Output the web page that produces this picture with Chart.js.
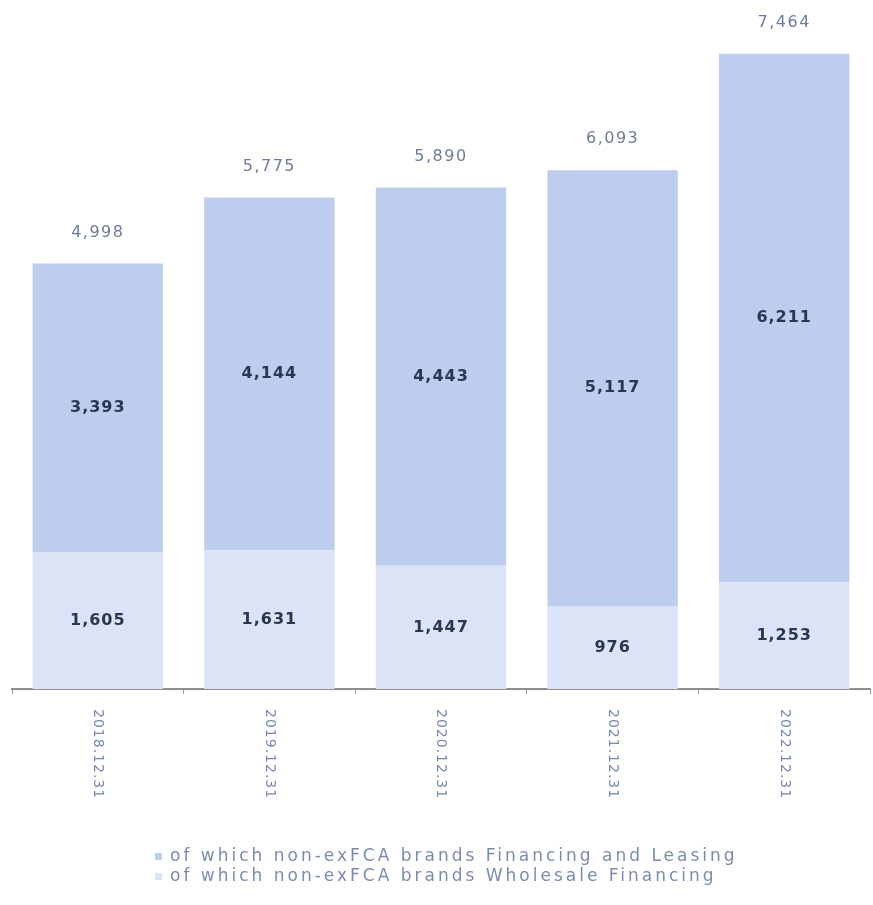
<!DOCTYPE html>
<html>
<head>
<meta charset="utf-8">
<script src="https://cdn.jsdelivr.net/npm/chart.js@4.4.0/dist/chart.umd.min.js"></script>
<style>
  html, body { margin: 0; padding: 0; background: #ffffff; }
  #wrap { width: 873px; height: 905px; position: relative; }
</style>
</head>
<body>
<div id="wrap"><canvas id="c" width="873" height="905"></canvas></div>
<script>
const categories = ['2018.12.31', '2019.12.31', '2020.12.31', '2021.12.31', '2022.12.31'];
const wholesaleFinancing = [1605, 1631, 1447, 976, 1253];
const financingLeasing = [3393, 4144, 4443, 5117, 6211];
const totals = [4998, 5775, 5890, 6093, 7464];
const seriesNames = [
  'of which non-exFCA brands Wholesale Financing',
  'of which non-exFCA brands Financing and Leasing'
];

const FONT = '"DejaVu Sans", "Open Sans", sans-serif';
const fmt = v => v.toLocaleString('en-US');

const labelPlugin = {
  id: 'customLabels',
  afterDatasetsDraw(chart) {
    const ctx = chart.ctx;
    const x = chart.scales.x;
    const y = chart.scales.y;
    ctx.save();
    // values inside segments
    ctx.textAlign = 'center';
    ctx.textBaseline = 'middle';
    ctx.fillStyle = '#2c3652';
    ctx.font = '600 16px ' + FONT;
    if ('letterSpacing' in ctx) ctx.letterSpacing = '1px';
    chart.data.datasets.forEach((ds, di) => {
      const meta = chart.getDatasetMeta(di);
      meta.data.forEach((bar, i) => {
        const cy = (bar.y + bar.base) / 2;
        ctx.fillText(fmt(ds.data[i]), bar.x, cy);
      });
    });
    // totals above bars
    ctx.fillStyle = '#6d7c99';
    ctx.font = '400 16px ' + FONT;
    if ('letterSpacing' in ctx) ctx.letterSpacing = '1.5px';
    totals.forEach((t, i) => {
      ctx.fillText(fmt(t), x.getPixelForValue(i), y.getPixelForValue(t) - 31);
    });
    // rotated x labels (reading top-to-bottom)
    ctx.fillStyle = '#7488b0';
    ctx.font = '400 14px ' + FONT;
    if ('letterSpacing' in ctx) ctx.letterSpacing = '1px';
    ctx.textAlign = 'left';
    ctx.textBaseline = 'middle';
    categories.forEach((c, i) => {
      const px = x.getPixelForValue(i);
      ctx.save();
      ctx.translate(px, chart.chartArea.bottom + 20);
      ctx.rotate(Math.PI / 2);
      ctx.fillText(c, 0, 0);
      ctx.restore();
    });
    // legend
    ctx.font = '400 17px ' + FONT;
    if ('letterSpacing' in ctx) ctx.letterSpacing = '3px';
    ctx.textAlign = 'left';
    ctx.textBaseline = 'middle';
    const order = [1, 0];
    order.forEach((di, row) => {
      const ds = chart.data.datasets[di];
      const ly = 857 + row * 20;
      ctx.fillStyle = ds.backgroundColor;
      ctx.fillRect(155, ly - 4, 7, 7);
      ctx.fillStyle = '#7a8db0';
      ctx.fillText(ds.label, 170, ly);
    });
    ctx.restore();
  }
};

new Chart(document.getElementById('c'), {
  type: 'bar',
  data: {
    labels: categories,
    datasets: [
      { label: seriesNames[0], data: wholesaleFinancing, backgroundColor: '#dbe4f7', borderWidth: 0 },
      { label: seriesNames[1], data: financingLeasing, backgroundColor: '#bccdee', borderWidth: 0 }
    ]
  },
  options: {
    responsive: false,
    animation: false,
    devicePixelRatio: 1,
    layout: { padding: { left: 12, right: 3, top: 8, bottom: 0 } },
    datasets: { bar: { categoryPercentage: 1.0, barPercentage: 0.76 } },
    plugins: { legend: { display: false }, tooltip: { enabled: false } },
    scales: {
      x: {
        stacked: true,
        offset: true,
        grid: { display: true, offset: true, drawOnChartArea: false, drawTicks: true, tickLength: 5, color: '#9a9a9a', lineWidth: 1 },
        border: { display: true, color: '#8f8f8f', width: 2 },
        ticks: { display: false },
        afterFit(scale) { scale.height = 216; }
      },
      y: {
        stacked: true,
        display: false,
        min: 0,
        max: 8000
      }
    }
  },
  plugins: [labelPlugin]
});
</script>
</body>
</html>
